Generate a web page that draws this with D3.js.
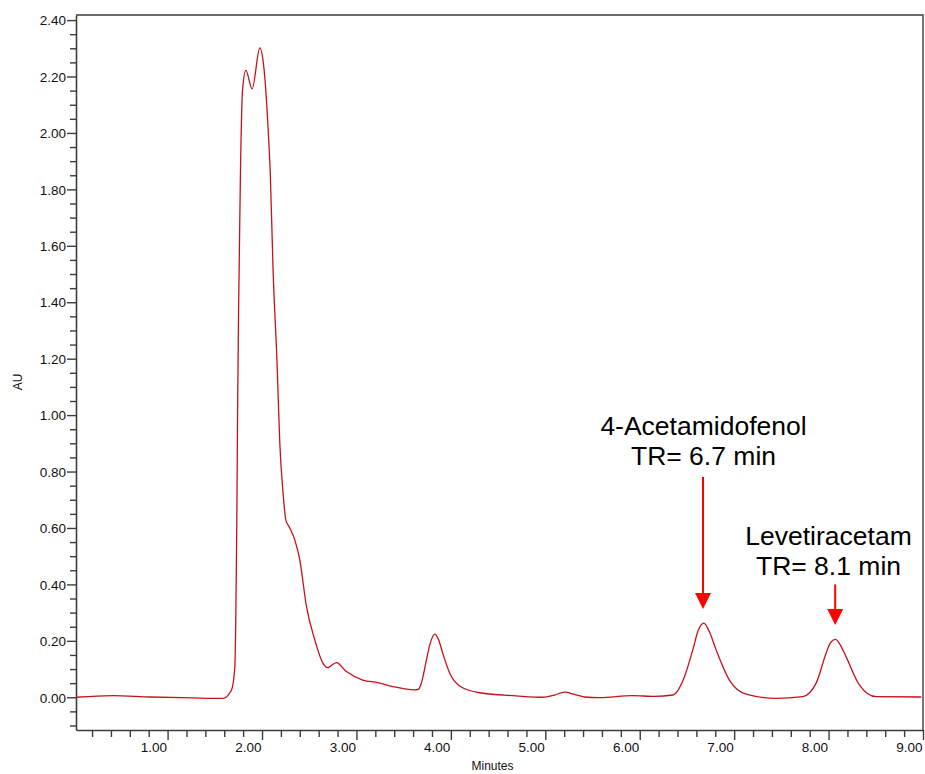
<!DOCTYPE html>
<html>
<head>
<meta charset="utf-8">
<script src="https://cdn.jsdelivr.net/npm/d3@7"></script>
<style>
  body { margin: 0; background: #fff; }
  svg { font-family: "Liberation Sans", Arial, sans-serif; }
</style>
</head>
<body>
<div id="chart"></div>
<script>
// chromatogram trace (minutes, AU)
var times = [0.03, 0.42, 0.81, 1.24, 1.585, 1.677, 1.712, 1.723, 1.733, 1.741, 1.752, 1.772, 1.794, 1.829, 1.895, 1.977,
    2.022, 2.065, 2.088, 2.117, 2.16, 2.188, 2.223, 2.252, 2.294, 2.347, 2.4, 2.471, 2.559, 2.643, 2.696, 2.788,
    2.894, 3.067, 3.225, 3.384, 3.617, 3.659, 3.688, 3.741, 3.776, 3.829, 3.871, 3.913, 3.987, 4.093, 4.305, 4.693,
    4.971, 5.098, 5.204, 5.31, 5.416, 5.575, 5.924, 6.157, 6.35, 6.474, 6.562, 6.622, 6.678, 6.738, 6.809, 6.95,
    7.127, 7.444, 7.726, 7.868, 7.974, 8.019, 8.072, 8.125, 8.185, 8.326, 8.503, 8.982];
var au = [0.000, 0.006, 0.001, -0.002, -0.004, 0.026, 0.107, 0.300, 0.620, 1.000, 1.380, 1.870, 2.154, 2.222, 2.156, 2.301,
    2.224, 2.012, 1.852, 1.515, 1.178, 0.902, 0.724, 0.629, 0.600, 0.558, 0.487, 0.321, 0.203, 0.122, 0.105, 0.123,
    0.091, 0.061, 0.052, 0.038, 0.026, 0.029, 0.051, 0.132, 0.185, 0.224, 0.203, 0.157, 0.086, 0.040, 0.016, 0.005,
    0.000, 0.008, 0.018, 0.010, 0.001, -0.001, 0.006, 0.003, 0.008, 0.073, 0.168, 0.239, 0.263, 0.232, 0.168, 0.061,
    0.011, -0.004, 0.002, 0.050, 0.156, 0.193, 0.205, 0.185, 0.144, 0.044, 0.002, 0.001];

var yMajorTicks = [0, 0.2, 0.4, 0.6, 0.8, 1.0, 1.2, 1.4, 1.6, 1.8, 2.0, 2.2, 2.4];
var xMajorTicks = [1, 2, 3, 4, 5, 6, 7, 8, 9];

// peak annotations: label lines, retention time, arrow top / tip (AU)
var peakNames = ["4-Acetamidofenol", "Levetiracetam"];
var peakTR = ["TR= 6.7 min", "TR= 8.1 min"];
var peakTimes = [6.67, 8.07];
var arrowTop = [0.781, 0.40];
var arrowTip = [0.313, 0.256];

var W = 925, H = 774;
var margin = {left: 76, top: 15, right: 2, bottom: 44};
var w = W - margin.left - margin.right;
var h = H - margin.top - margin.bottom;

var svg = d3.select("#chart").append("svg")
    .attr("width", W)
    .attr("height", H);
var g = svg.append("g").attr("transform", "translate(" + margin.left + "," + margin.top + ")");

var x = d3.scaleLinear().domain([0.03, 9.0]).range([0, w]);
var y = d3.scaleLinear().domain([-0.116, 2.418]).range([h, 0]);

var axisColor = "#3c3c3c";

// minor ticks
var yMinor = d3.range(-0.1, 2.401, 0.05).filter(function (v) {
    return Math.abs(Math.round(v / 0.2) * 0.2 - v) > 0.001;
});
var xMinor = d3.range(0.2, 9.001, 0.2).filter(function (v) {
    return Math.abs(Math.round(v) - v) > 0.001;
});

g.append("g")
    .call(d3.axisLeft(y).tickValues(yMinor).tickSize(6).tickFormat(""))
    .call(function (s) { s.select(".domain").remove(); });
g.append("g")
    .attr("transform", "translate(0," + h + ")")
    .call(d3.axisBottom(x).tickValues(xMinor).tickSize(7).tickFormat(""))
    .call(function (s) { s.select(".domain").remove(); });

// major ticks + labels
var yAxis = g.append("g")
    .call(d3.axisLeft(y).tickValues(yMajorTicks).tickSize(9).tickSizeOuter(0).tickFormat(d3.format(".2f")));
yAxis.selectAll("text").attr("x", -10).attr("dy", "0.35em").style("font-size", "13.5px").attr("fill", "#111");

var xAxis = g.append("g")
    .attr("transform", "translate(0," + h + ")")
    .call(d3.axisBottom(x).tickValues(xMajorTicks).tickSize(10).tickSizeOuter(0).tickFormat(d3.format(".2f")));
xAxis.selectAll("text")
    .attr("text-anchor", "end")
    .attr("x", -1)
    .attr("y", 12)
    .attr("dy", "0.71em")
    .style("font-size", "13.5px")
    .attr("fill", "#111");

g.selectAll(".tick line").attr("stroke", axisColor).attr("stroke-width", 1.4);
g.selectAll(".domain").attr("stroke", axisColor).attr("stroke-width", 1.6);

// frame top + right
g.append("path")
    .attr("d", "M0,0H" + w + "V" + h)
    .attr("fill", "none")
    .attr("stroke", axisColor)
    .attr("stroke-width", 1.4);

// axis titles
svg.append("text")
    .attr("x", margin.left + w / 2 - 7)
    .attr("y", 770)
    .attr("text-anchor", "middle")
    .style("font-size", "12px")
    .attr("fill", "#111")
    .text("Minutes");
svg.append("text")
    .attr("transform", "translate(22,382) rotate(-90)")
    .attr("text-anchor", "middle")
    .style("font-size", "12px")
    .attr("fill", "#111")
    .text("AU");

// trace
var line = d3.line()
    .x(function (d, i) { return x(times[i]); })
    .y(function (d) { return y(d); })
    .curve(d3.curveMonotoneX);

g.append("path")
    .datum(au)
    .attr("d", line)
    .attr("fill", "none")
    .attr("stroke", "#c8101a")
    .attr("stroke-width", 1.3);

// annotations
peakTimes.forEach(function (t, i) {
    var px = x(t);
    var top = y(arrowTop[i]);
    var tip = y(arrowTip[i]);
    g.append("line")
        .attr("x1", px).attr("x2", px)
        .attr("y1", top).attr("y2", tip - 14)
        .attr("stroke", "#ff0000")
        .attr("stroke-width", 2);
    g.append("path")
        .attr("d", "M" + (px - 8) + "," + (tip - 16) + "L" + (px + 8) + "," + (tip - 16) + "L" + px + "," + tip + "Z")
        .attr("fill", "#ff0000");
});

var labelX = [703.5, 828.5];
var labelY1 = [0.93, 0.54];
peakNames.forEach(function (name, i) {
    var t = g.append("text")
        .attr("x", labelX[i] - margin.left)
        .attr("y", y(labelY1[i]))
        .attr("text-anchor", "middle")
        .style("font-size", "26.5px")
        .attr("fill", "#000");
    t.append("tspan").text(name);
    t.append("tspan")
        .attr("x", labelX[i] - margin.left)
        .attr("dy", 30.5)
        .text(peakTR[i]);
});
</script>
</body>
</html>
